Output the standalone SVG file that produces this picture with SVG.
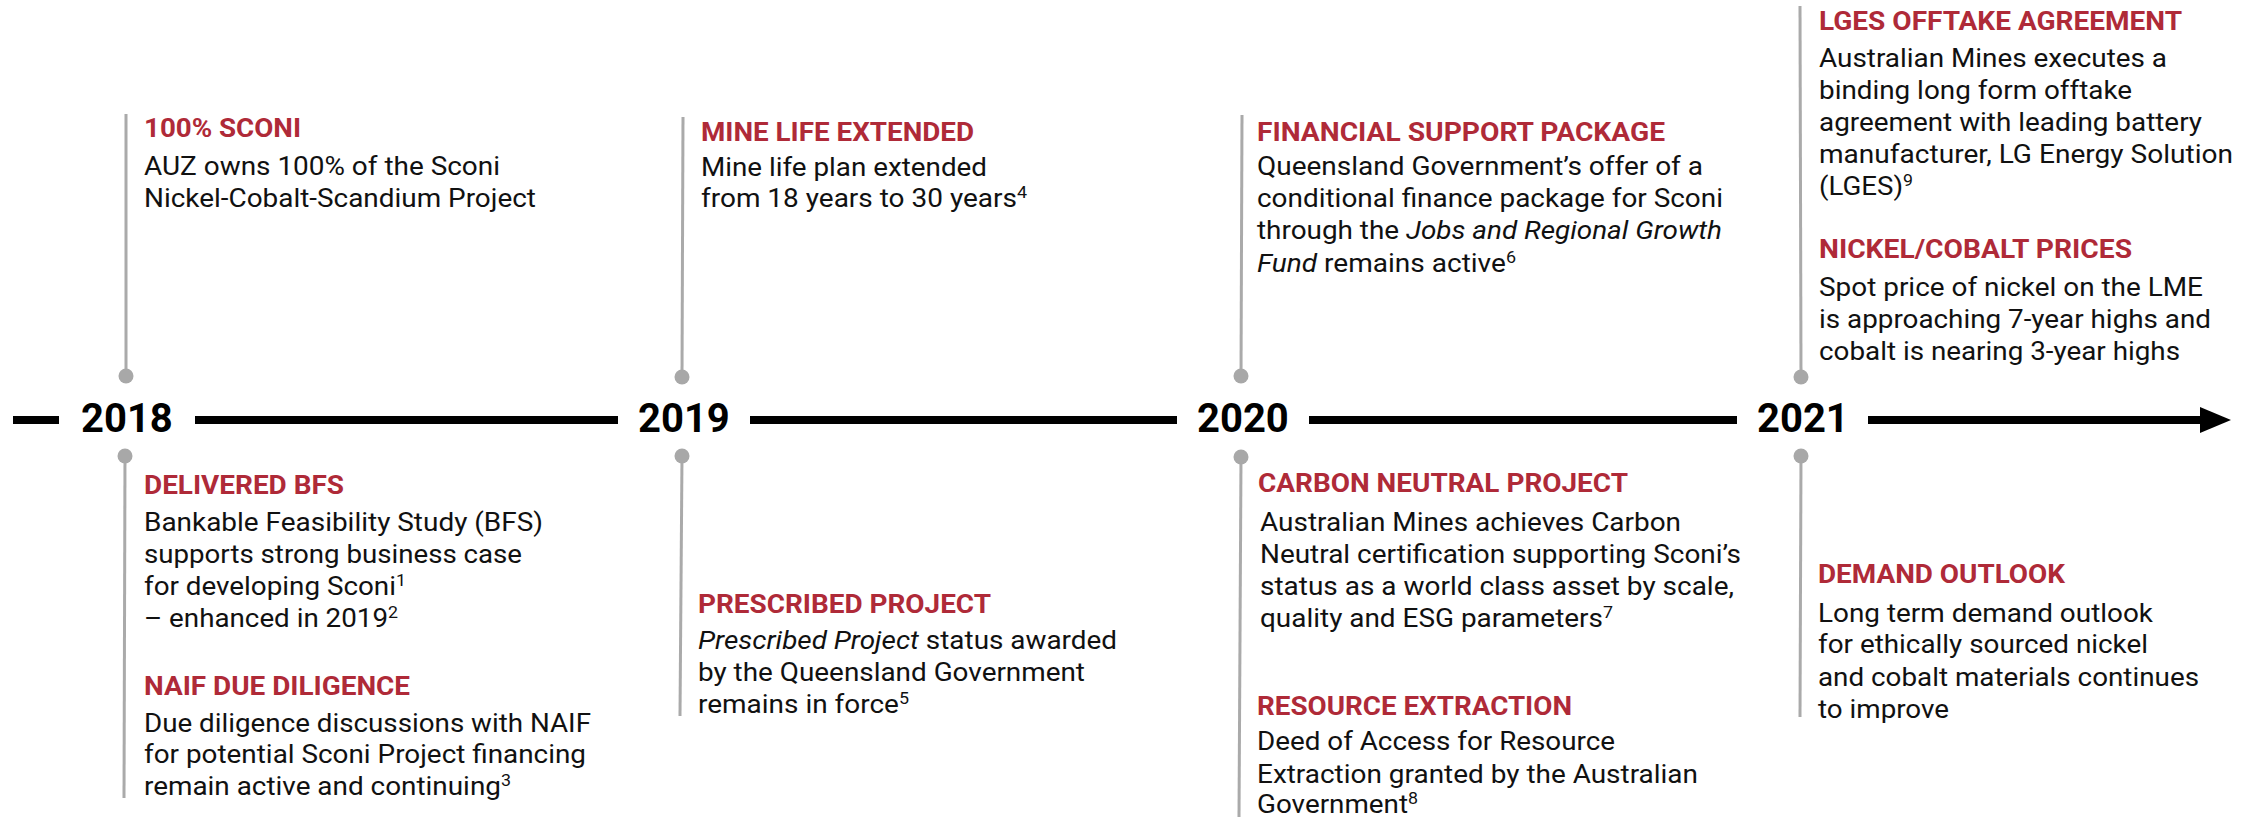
<svg xmlns="http://www.w3.org/2000/svg" width="2246" height="817" viewBox="0 0 2246 817">
<style>
text{font-family:Roboto,"Liberation Sans",sans-serif;}
.t{font-weight:700;font-size:25.5px;fill:#af2a38;}
.b{font-weight:400;font-size:25px;fill:#111;}
.y{font-weight:700;font-size:40px;fill:#000;}
.i{font-style:italic;}
.s{font-size:16px;}
.v{stroke:#aaaaaa;stroke-width:3;fill:none;}
.d{fill:#a8a8a8;}
.tl{stroke:#000;stroke-width:8;fill:none;}
</style>
<rect width="2246" height="817" fill="#fff"/>
<g id="connectors">
<line class="tl" x1="13" y1="420" x2="59" y2="420"/>
<line class="tl" x1="195" y1="420" x2="618" y2="420"/>
<line class="tl" x1="750" y1="420" x2="1177" y2="420"/>
<line class="tl" x1="1309" y1="420" x2="1737" y2="420"/>
<line class="tl" x1="1868" y1="420" x2="2206" y2="420"/>
<polygon points="2200,407 2231,420 2200,433" fill="#000"/>
<line class="v" x1="126" y1="114" x2="126" y2="376"/>
<circle class="d" cx="126" cy="376" r="7.5"/>
<line class="v" x1="125" y1="456" x2="124" y2="798"/>
<circle class="d" cx="125" cy="456" r="7.5"/>
<line class="v" x1="683" y1="117" x2="682" y2="377"/>
<circle class="d" cx="682" cy="377" r="7.5"/>
<line class="v" x1="682" y1="456" x2="680" y2="716"/>
<circle class="d" cx="682" cy="456" r="7.5"/>
<line class="v" x1="1242" y1="115" x2="1241" y2="376"/>
<circle class="d" cx="1241" cy="376" r="7.5"/>
<line class="v" x1="1241" y1="457" x2="1239" y2="817"/>
<circle class="d" cx="1241" cy="457" r="7.5"/>
<line class="v" x1="1800" y1="6" x2="1801" y2="377"/>
<circle class="d" cx="1801" cy="377" r="7.5"/>
<line class="v" x1="1801" y1="456" x2="1800" y2="717"/>
<circle class="d" cx="1801" cy="456" r="7.5"/>
</g>
<g id="year-2018"><text class="y" x="81" y="432">2018</text></g>
<g id="year-2019"><text class="y" x="638" y="432">2019</text></g>
<g id="year-2020"><text class="y" x="1197" y="432">2020</text></g>
<g id="year-2021"><text class="y" x="1757" y="432">2021</text></g>
<g id="sconi">
<text class="t" x="144" y="137" textLength="157" lengthAdjust="spacingAndGlyphs">100% SCONI</text>
<text class="b" x="144" y="175" textLength="356" lengthAdjust="spacingAndGlyphs">AUZ owns 100% of the Sconi</text>
<text class="b" x="144" y="207" textLength="392" lengthAdjust="spacingAndGlyphs">Nickel-Cobalt-Scandium Project</text>
</g>
<g id="bfs">
<text class="t" x="144" y="494" textLength="200" lengthAdjust="spacingAndGlyphs">DELIVERED BFS</text>
<text class="b" x="144" y="531" textLength="399" lengthAdjust="spacingAndGlyphs">Bankable Feasibility Study (BFS)</text>
<text class="b" x="144" y="563" textLength="378" lengthAdjust="spacingAndGlyphs">supports strong business case</text>
<text class="b" x="144" y="595" textLength="262" lengthAdjust="spacingAndGlyphs">for developing Sconi<tspan class="s" dy="-9">1</tspan></text>
<text class="b" x="144" y="627" textLength="254" lengthAdjust="spacingAndGlyphs">– enhanced in 2019<tspan class="s" dy="-9">2</tspan></text>
</g>
<g id="naif">
<text class="t" x="144" y="695" textLength="266" lengthAdjust="spacingAndGlyphs">NAIF DUE DILIGENCE</text>
<text class="b" x="144" y="732" textLength="447" lengthAdjust="spacingAndGlyphs">Due diligence discussions with NAIF</text>
<text class="b" x="144" y="763" textLength="442" lengthAdjust="spacingAndGlyphs">for potential Sconi Project financing</text>
<text class="b" x="144" y="795" textLength="367" lengthAdjust="spacingAndGlyphs">remain active and continuing<tspan class="s" dy="-9">3</tspan></text>
</g>
<g id="mine-life">
<text class="t" x="701" y="141" textLength="273" lengthAdjust="spacingAndGlyphs">MINE LIFE EXTENDED</text>
<text class="b" x="701" y="176" textLength="286" lengthAdjust="spacingAndGlyphs">Mine life plan extended</text>
<text class="b" x="701" y="207" textLength="326" lengthAdjust="spacingAndGlyphs">from 18 years to 30 years<tspan class="s" dy="-9">4</tspan></text>
</g>
<g id="prescribed">
<text class="t" x="698" y="613" textLength="293" lengthAdjust="spacingAndGlyphs">PRESCRIBED PROJECT</text>
<text class="b" x="698" y="649" textLength="419" lengthAdjust="spacingAndGlyphs"><tspan class="i">Prescribed Project</tspan> status awarded</text>
<text class="b" x="698" y="681" textLength="387" lengthAdjust="spacingAndGlyphs">by the Queensland Government</text>
<text class="b" x="698" y="713" textLength="211" lengthAdjust="spacingAndGlyphs">remains in force<tspan class="s" dy="-9">5</tspan></text>
</g>
<g id="financial">
<text class="t" x="1257" y="141" textLength="408" lengthAdjust="spacingAndGlyphs">FINANCIAL SUPPORT PACKAGE</text>
<text class="b" x="1257" y="175" textLength="446" lengthAdjust="spacingAndGlyphs">Queensland Government’s offer of a</text>
<text class="b" x="1257" y="207" textLength="466" lengthAdjust="spacingAndGlyphs">conditional finance package for Sconi</text>
<text class="b" x="1257" y="239" textLength="465" lengthAdjust="spacingAndGlyphs">through the <tspan class="i">Jobs and Regional Growth</tspan></text>
<text class="b" x="1257" y="272" textLength="259" lengthAdjust="spacingAndGlyphs"><tspan class="i">Fund</tspan> remains active<tspan class="s" dy="-9">6</tspan></text>
</g>
<g id="carbon">
<text class="t" x="1258" y="492" textLength="370" lengthAdjust="spacingAndGlyphs">CARBON NEUTRAL PROJECT</text>
<text class="b" x="1260" y="531" textLength="421" lengthAdjust="spacingAndGlyphs">Australian Mines achieves Carbon</text>
<text class="b" x="1260" y="563" textLength="481" lengthAdjust="spacingAndGlyphs">Neutral certification supporting Sconi’s</text>
<text class="b" x="1260" y="595" textLength="474" lengthAdjust="spacingAndGlyphs">status as a world class asset by scale,</text>
<text class="b" x="1260" y="627" textLength="353" lengthAdjust="spacingAndGlyphs">quality and ESG parameters<tspan class="s" dy="-9">7</tspan></text>
</g>
<g id="resource">
<text class="t" x="1257" y="715" textLength="315" lengthAdjust="spacingAndGlyphs">RESOURCE EXTRACTION</text>
<text class="b" x="1257" y="750" textLength="358" lengthAdjust="spacingAndGlyphs">Deed of Access for Resource</text>
<text class="b" x="1257" y="783" textLength="441" lengthAdjust="spacingAndGlyphs">Extraction granted by the Australian</text>
<text class="b" x="1257" y="813" textLength="161" lengthAdjust="spacingAndGlyphs">Government<tspan class="s" dy="-9">8</tspan></text>
</g>
<g id="lges">
<text class="t" x="1819" y="30" textLength="363" lengthAdjust="spacingAndGlyphs">LGES OFFTAKE AGREEMENT</text>
<text class="b" x="1819" y="67" textLength="348" lengthAdjust="spacingAndGlyphs">Australian Mines executes a</text>
<text class="b" x="1819" y="99" textLength="313" lengthAdjust="spacingAndGlyphs">binding long form offtake</text>
<text class="b" x="1819" y="131" textLength="383" lengthAdjust="spacingAndGlyphs">agreement with leading battery</text>
<text class="b" x="1819" y="163" textLength="414" lengthAdjust="spacingAndGlyphs">manufacturer, LG Energy Solution</text>
<text class="b" x="1819" y="195" textLength="94" lengthAdjust="spacingAndGlyphs">(LGES)<tspan class="s" dy="-9">9</tspan></text>
</g>
<g id="prices">
<text class="t" x="1819" y="258" textLength="313" lengthAdjust="spacingAndGlyphs">NICKEL/COBALT PRICES</text>
<text class="b" x="1819" y="296" textLength="384" lengthAdjust="spacingAndGlyphs">Spot price of nickel on the LME</text>
<text class="b" x="1819" y="328" textLength="392" lengthAdjust="spacingAndGlyphs">is approaching 7-year highs and</text>
<text class="b" x="1819" y="360" textLength="361" lengthAdjust="spacingAndGlyphs">cobalt is nearing 3-year highs</text>
</g>
<g id="demand">
<text class="t" x="1818" y="583" textLength="247" lengthAdjust="spacingAndGlyphs">DEMAND OUTLOOK</text>
<text class="b" x="1818" y="622" textLength="335" lengthAdjust="spacingAndGlyphs">Long term demand outlook</text>
<text class="b" x="1818" y="653" textLength="330" lengthAdjust="spacingAndGlyphs">for ethically sourced nickel</text>
<text class="b" x="1818" y="686" textLength="381" lengthAdjust="spacingAndGlyphs">and cobalt materials continues</text>
<text class="b" x="1818" y="718" textLength="131" lengthAdjust="spacingAndGlyphs">to improve</text>
</g>
</svg>
